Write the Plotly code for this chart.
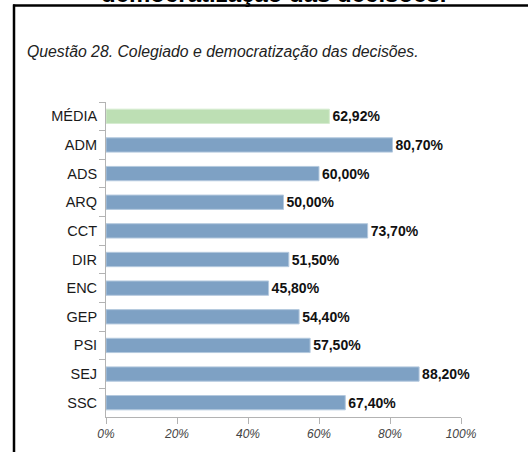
import plotly.graph_objects as go

categories = ["MÉDIA", "ADM", "ADS", "ARQ", "CCT", "DIR", "ENC", "GEP", "PSI", "SEJ", "SSC"]
values = [62.92, 80.70, 60.00, 50.00, 73.70, 51.50, 45.80, 54.40, 57.50, 88.20, 67.40]
x_ticks = [0, 20, 40, 60, 80, 100]
x_tick_labels = ["0%", "20%", "40%", "60%", "80%", "100%"]
title_text = "Questão 28. Colegiado e democratização das decisões."
cut_title = "democratização das decisões."

W, H = 528, 452
L, R, T, B = 106, 461, 102, 417

colors = ["#bddfb4" if c == "MÉDIA" else "#7ea1c4" for c in categories]
line_colors = ["#d6ecd0" if c == "MÉDIA" else "#b4c9de" for c in categories]
labels = [f"{v:.2f}%".replace(".", ",") for v in values]

fig = go.Figure()
fig.add_trace(go.Bar(
    y=categories, x=values, orientation="h",
    marker=dict(color=colors, line=dict(color=line_colors, width=1)),
    text=labels, textposition="outside", cliponaxis=False, constraintext="none",
    textfont=dict(family="Liberation Sans", size=14, color="#111111", weight="bold"),
    hoverinfo="skip",
))

def px_x(p):
    return (p - L) / (R - L)

def px_y(p):
    return (B - p) / (B - T)

fig.update_layout(
    width=W, height=H,
    margin=dict(l=L, r=W - R, t=T, b=H - B),
    paper_bgcolor="white", plot_bgcolor="white",
    bargap=0.5, showlegend=False,
    font=dict(family="Liberation Sans", color="#222222"),
    xaxis=dict(
        range=[0, 100], tickvals=x_ticks, ticktext=x_tick_labels,
        showgrid=False, zeroline=False, showline=True, linecolor="#b3b3b3", linewidth=1,
        ticks="outside", ticklen=6, tickcolor="#b3b3b3",
        tickfont=dict(family="Liberation Sans", size=12, color="#444444", style="italic"),
        fixedrange=True,
    ),
    yaxis=dict(
        categoryorder="array", categoryarray=categories, autorange="reversed",
        showgrid=False, zeroline=False, showline=True, linecolor="#b3b3b3", linewidth=1,
        ticks="outside", ticklen=6, tickcolor="#b3b3b3", tickson="boundaries",
        tickfont=dict(family="Liberation Sans", size=14.5, color="#1a1a1a"),
        ticklabelstandoff=5,
        fixedrange=True,
    ),
    annotations=[
        dict(text=title_text, xref="paper", yref="paper", x=px_x(25), y=px_y(52),
             xanchor="left", yanchor="middle", showarrow=False,
             font=dict(family="Liberation Sans", size=15.8, color="#222222", style="italic")),
        dict(text=cut_title, xref="paper", yref="paper", x=px_x(274), y=px_y(9),
             xanchor="center", yanchor="bottom", showarrow=False,
             font=dict(family="Liberation Sans", size=24, color="#000000", weight="bold")),
    ],
    shapes=[
        dict(type="line", xref="paper", yref="paper", x0=px_x(13), x1=px_x(540),
             y0=px_y(5.5), y1=px_y(5.5), line=dict(color="black", width=2.5)),
        dict(type="line", xref="paper", yref="paper", x0=px_x(14), x1=px_x(14),
             y0=px_y(4.5), y1=px_y(460), line=dict(color="black", width=2.5)),
    ],
)

fig.write_html("out.html", config={"displayModeBar": False},
               post_script="document.body.style.margin='0';")
